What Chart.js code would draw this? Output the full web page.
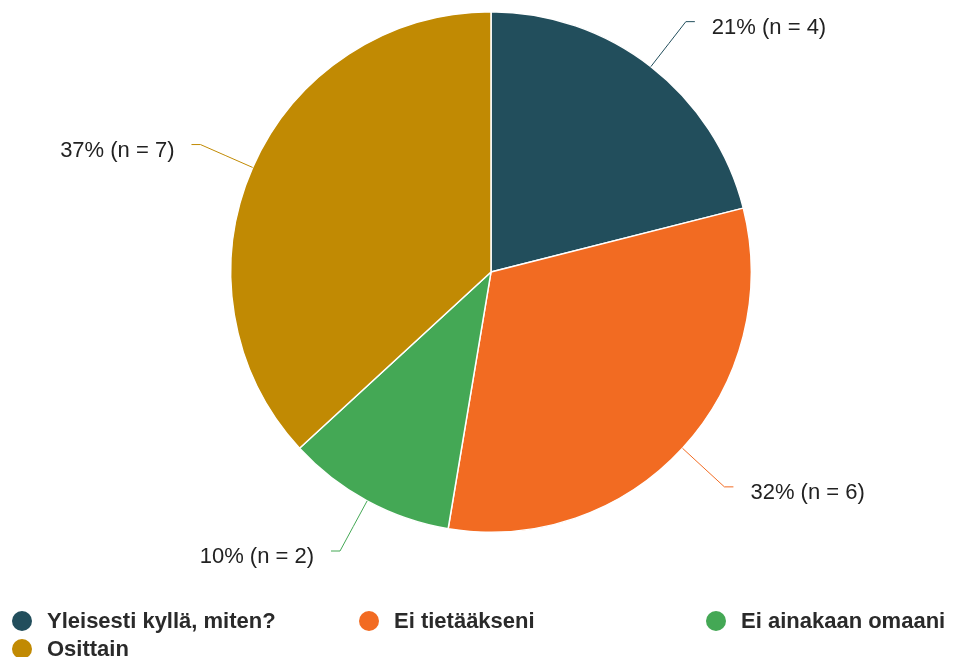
<!DOCTYPE html>
<html>
<head>
<meta charset="utf-8">
<script src="https://cdn.jsdelivr.net/npm/chart.js@4"></script>
<style>
  html, body { margin: 0; padding: 0; background: #fff; }
  #wrap { position: relative; width: 954px; height: 657px; }
  #legend {
    position: absolute; left: 12px; top: 608px; width: 942px;
    display: grid; grid-template-columns: 347px 347px 248px; row-gap: 2px;
    font-family: "Liberation Sans", Arial, sans-serif; font-weight: bold;
    font-size: 22px; color: #2a2a2a;
  }
  #legend .item { display: flex; align-items: center; height: 26px; white-space: nowrap; }
  #legend .dot { width: 20px; height: 20px; border-radius: 50%; margin-right: 15px; flex: none; }
</style>
</head>
<body>
<div id="wrap">
  <canvas id="piirakka" width="954" height="657"></canvas>
  <div id="legend"></div>
</div>
<script>
// Vastaukset
const vastaukset = ['Yleisesti kyllä, miten?', 'Ei tietääkseni', 'Ei ainakaan omaani', 'Osittain'];
const lukumaarat = [4, 6, 2, 7];
const varit = ['#224E5C', '#F26B22', '#44A855', '#C18A03'];

const yhteensa = lukumaarat.reduce((a, b) => a + b, 0);

// Prosentit suurimman jakojäännöksen menetelmällä, summa 100
const raaka = lukumaarat.map(n => n / yhteensa * 100);
const prosentit = raaka.map(Math.floor);
let puuttuu = 100 - prosentit.reduce((a, b) => a + b, 0);
raaka.map((v, i) => [v - Math.floor(v), i])
  .sort((a, b) => b[0] - a[0])
  .slice(0, puuttuu)
  .forEach(([, i]) => prosentit[i] += 1);

// Prosenttilabelit viivoineen
const labelPlugin = {
  id: 'labelit',
  afterDatasetsDraw(chart) {
    const ctx = chart.ctx;
    const meta = chart.getDatasetMeta(0);
    ctx.save();
    ctx.font = '22px "Liberation Sans", Arial, sans-serif';
    ctx.textBaseline = 'middle';
    meta.data.forEach((arc, i) => {
      const mid = (arc.startAngle + arc.endAngle) / 2;
      const cos = Math.cos(mid), sin = Math.sin(mid);
      const x0 = arc.x + cos * arc.outerRadius;
      const y0 = arc.y + sin * arc.outerRadius;
      const x1 = arc.x + cos * (arc.outerRadius + 57);
      const y1 = arc.y + sin * (arc.outerRadius + 57);
      const oikea = cos >= 0;
      const x2 = x1 + (oikea ? 9 : -9);
      ctx.strokeStyle = varit[i];
      ctx.lineWidth = 1;
      ctx.beginPath();
      ctx.moveTo(x0, y0);
      ctx.quadraticCurveTo(x0 + cos * 30, y0 + sin * 30, x1, y1);
      ctx.lineTo(x2, y1);
      ctx.stroke();
      ctx.fillStyle = '#222';
      ctx.textAlign = oikea ? 'left' : 'right';
      ctx.fillText(prosentit[i] + '% (n = ' + lukumaarat[i] + ')', x2 + (oikea ? 17 : -17), y1 + 6);
    });
    ctx.restore();
  }
};

new Chart(document.getElementById('piirakka').getContext('2d'), {
  type: 'pie',
  data: {
    labels: vastaukset,
    datasets: [{
      data: lukumaarat,
      backgroundColor: varit,
      borderColor: '#ffffff',
      borderWidth: 1.5
    }]
  },
  options: {
    responsive: false,
    animation: false,
    layout: { padding: { left: 28, right: 0, top: 11, bottom: 124 } },
    plugins: {
      legend: { display: false },
      tooltip: { enabled: false }
    }
  },
  plugins: [labelPlugin]
});

// Selite HTML:nä
const legend = document.getElementById('legend');
vastaukset.forEach((nimi, i) => {
  const item = document.createElement('div');
  item.className = 'item';
  const dot = document.createElement('span');
  dot.className = 'dot';
  dot.style.background = varit[i];
  const txt = document.createElement('span');
  txt.textContent = nimi;
  item.appendChild(dot);
  item.appendChild(txt);
  legend.appendChild(item);
});
</script>
</body>
</html>
